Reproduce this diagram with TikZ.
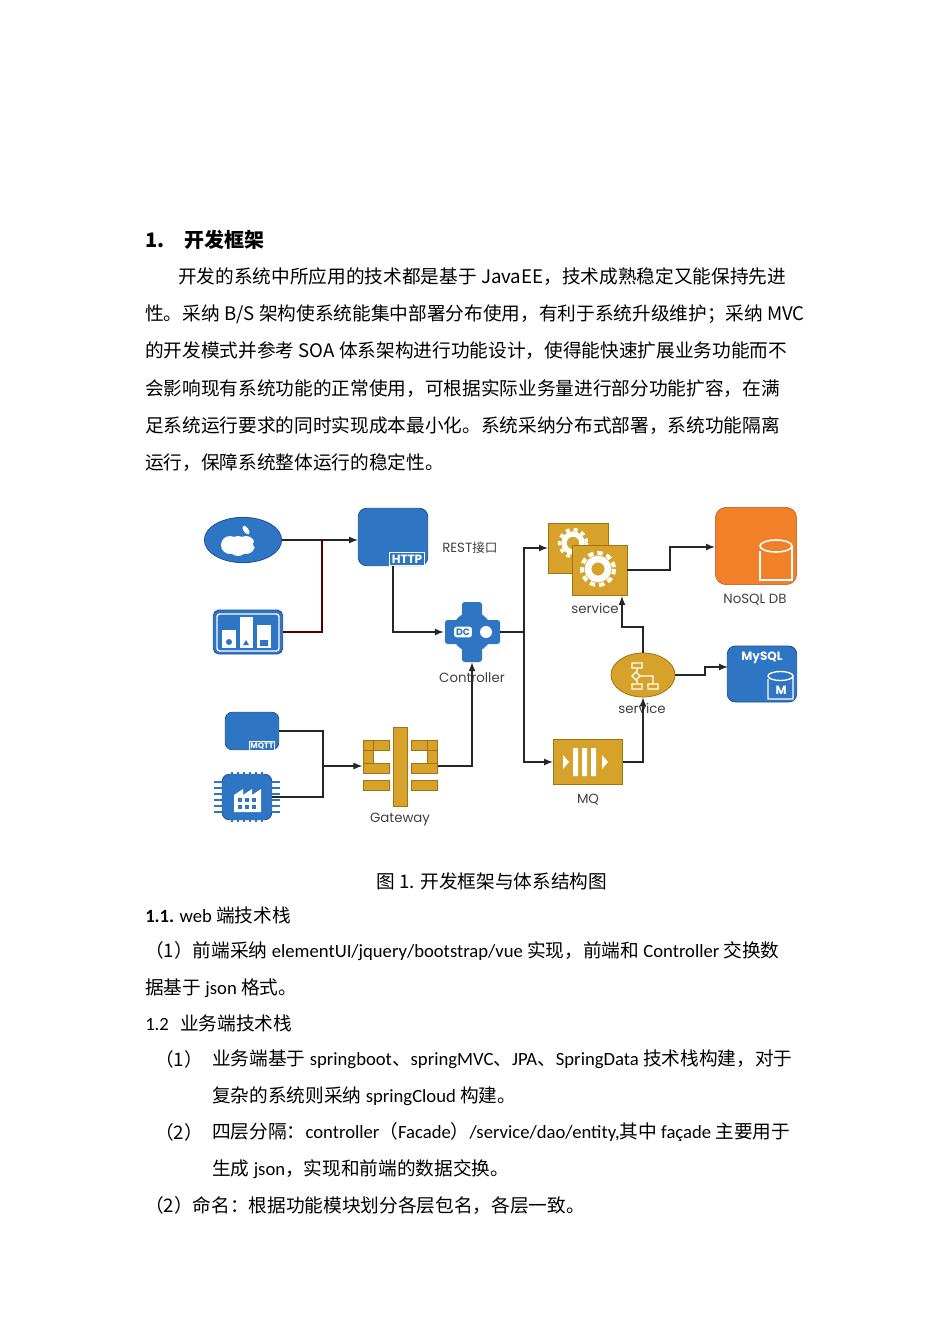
\documentclass[tikz,border=0pt]{standalone}
\usetikzlibrary{shapes.geometric}
\usepackage{fontspec}
\setmainfont{Noto Sans CJK SC}
\newfontfamily\lab{Poppins}
\newfontfamily\cjk{Noto Sans CJK SC}
\newfontfamily\lat{Carlito}
\definecolor{ibl}{RGB}{46,117,196}
\definecolor{ibd}{RGB}{30,80,150}
\definecolor{igd}{RGB}{214,162,42}
\definecolor{igk}{RGB}{160,115,20}
\definecolor{ior}{RGB}{242,128,40}
\begin{document}
\begin{tikzpicture}[x=0.75pt,y=-0.75pt,
  txt/.style={anchor=west,inner sep=0pt,font=\fontsize{14}{16}\selectfont},
  lbl/.style={inner sep=0pt,font=\lab\fontsize{10}{12}\selectfont,text=black!75},
  con/.style={draw=black!85,line width=1.3pt},
  arr/.style={con,-latex},
  blueic/.style={fill=ibl,draw=ibd,line width=0.6pt},
  goldic/.style={fill=igd,draw=igk,line width=0.6pt}]
\path[use as bounding box] (0,0) rectangle (950,1344);
\fill[white] (0,0) rectangle (950,1344);
% text
\node[txt,font=\bfseries\fontsize{15}{16}\selectfont] (t0) at (145,240) {1.\hspace{1em}开发框架};
\node[txt] (p1) at (178,277) {开发的系统中所应用的技术都是基于 JavaEE，技术成熟稳定又能保持先进};
\node[txt] (p2) at (145,314) {性。采纳 B/S 架构使系统能集中部署分布使用，有利于系统升级维护；采纳 MVC};
\node[txt] (p3) at (145,351) {的开发模式并参考 SOA 体系架构进行功能设计，使得能快速扩展业务功能而不};
\node[txt] (p4) at (145,389) {会影响现有系统功能的正常使用，可根据实际业务量进行部分功能扩容，在满};
\node[txt] (p5) at (145,426) {足系统运行要求的同时实现成本最小化。系统采纳分布式部署，系统功能隔离};
\node[txt] (p6) at (145,463) {运行，保障系统整体运行的稳定性。};
\node[txt,anchor=center] (cap) at (492,881) {图 1. 开发框架与体系结构图};
\node[txt] (h11) at (145,915) {{\lat\bfseries 1.1.} {\lat web} 端技术栈};
\node[txt] (q1) at (145,951) {（1）前端采纳 {\lat elementUI/jquery/bootstrap/vue} 实现，前端和 {\lat Controller} 交换数};
\node[txt] (q2) at (145,988) {据基于 {\lat json} 格式。};
\node[txt] (h12) at (145,1023) {{\lat 1.2}\hspace{0.6em}业务端技术栈};
\node[txt] (r1n) at (155,1059) {（1）};
\node[txt] (r1) at (212,1059) {业务端基于 {\lat springboot}、{\lat springMVC}、{\lat JPA}、{\lat SpringData} 技术栈构建，对于};
\node[txt] (r1b) at (212,1096) {复杂的系统则采纳 {\lat springCloud} 构建。};
\node[txt] (r2n) at (155,1132) {（2）};
\node[txt] (r2) at (212,1132) {四层分隔：{\lat controller}（{\lat Facade}）{\lat /service/dao/entity,}其中 {\lat façade} 主要用于};
\node[txt] (r2b) at (212,1169) {生成 {\lat json}，实现和前端的数据交换。};
\node[txt] (r3) at (145,1205) {（2）命名：根据功能模块划分各层包名，各层一致。};

% ===== icons =====
\node[ellipse,blueic,minimum width=58pt,minimum height=34pt,inner sep=0pt] (apple) at (243,540) {};
\fill[white] (230,545) circle (9) (246,545) circle (9) (238,546) ellipse [x radius=10,y radius=10];
\fill[ibl] (257,544) circle (4);
\fill[white,rotate around={35:(246,530)}] (246,530) ellipse [x radius=2.5,y radius=5];
\node[blueic,rounded corners=4pt,minimum width=52pt,minimum height=33pt,inner sep=0pt] (dash) at (248,632) {};
\draw[white,line width=1pt,rounded corners=2pt] (217,614) rectangle (279,651);
\fill[white] (222,630) rectangle (236,648);
\fill[white] (240,617) rectangle (253,648);
\fill[white] (257,625) rectangle (271,648);
\fill[ibl] (229,642) circle (3) (243,645)--(246,640)--(249,645)--cycle (260,640) rectangle (268,646);
\node[blueic,rounded corners=6pt,minimum width=52pt,minimum height=43pt,inner sep=0pt] (http) at (393,537) {};
\node[fill=ibl,draw=white,line width=1pt,inner sep=1.5pt,text=white,font=\lab\bfseries\fontsize{9}{10}\selectfont] (httpl) at (407,559) {HTTP};
\node[lbl,anchor=west] (rest) at (442,548) {REST{\cjk\fontsize{9.5}{12}\selectfont 接口}};
\node[minimum width=42pt,minimum height=45pt,inner sep=0pt] (ctrl) at (472,632) {};
\fill[ibl,rounded corners=2pt] (462,602) rectangle (482,662) (445,620) rectangle (500,644);
\fill[ibl] (472,632) circle (20);
\fill[white] (486,632) circle (6);
\node[fill=white,rounded corners=2pt,inner sep=1.5pt,text=ibl,font=\lab\bfseries\fontsize{7}{8}\selectfont] (dc) at (463,632) {DC};
\node[lbl] (ctrll) at (472,678) {Controller};
\node[blueic,rounded corners=5pt,minimum width=40pt,minimum height=28pt,inner sep=0pt] (mqtt) at (252,731) {};
\node[fill=ibl,draw=white,line width=0.8pt,inner sep=1pt,text=white,font=\lab\bfseries\fontsize{6}{7}\selectfont] (mqttl) at (262,746) {MQTT};
\node[blueic,rounded corners=5pt,minimum width=37pt,minimum height=34pt,inner sep=0pt] (chip) at (247,797) {};
\foreach \i in {0,...,5}{
 \draw[ibl,line width=1.5pt] (232+\i*6,772)--(232+\i*6,775) (232+\i*6,819)--(232+\i*6,822)
  (214,782+\i*6)--(222,782+\i*6) (272,782+\i*6)--(280,782+\i*6);}
\fill[white] (234,812)--(234,795)--(243,789)--(243,795)--(252,789)--(252,795)--(261,789)--(261,812)--cycle;
\foreach \a/\b in {238/798,245/798,252/798,238/805,245/805,252/805} \fill[ibl] (\a,\b) rectangle ++(4,4);
\node[minimum width=56pt,minimum height=60pt,inner sep=0pt] (gw) at (400,766) {};
\begin{scope}[goldic]
\filldraw (393,727) rectangle (407,806);
\filldraw (363,740) rectangle (389,750) (363,740) rectangle (373,763) (363,763) rectangle (389,773);
\filldraw (411,740) rectangle (437,750) (427,740) rectangle (437,763) (411,763) rectangle (437,773);
\filldraw (363,780) rectangle (389,790) (411,780) rectangle (437,790);
\end{scope}
\node[lbl] (gwl) at (400,820) {Gateway};
\node[minimum width=60pt,minimum height=54pt,inner sep=0pt] (gears) at (588,559) {};
\filldraw[goldic] (548,523) rectangle (608,573);
\draw[white,line width=4pt] (573,543) circle (9);
\draw[white,line width=2.5pt,dash pattern=on 3pt off 3pt] (573,543) circle (13.5);
\filldraw[goldic] (572,545) rectangle (627,595);
\draw[white,line width=5pt] (598,569) circle (10);
\draw[white,line width=3pt,dash pattern=on 4pt off 3pt] (598,569) circle (16);
\node[lbl] (gearsl) at (595,608) {service};
\node[fill=ior,draw=ior!70!black,rounded corners=8pt,minimum width=61pt,minimum height=58pt,inner sep=0pt] (nosql) at (756,546) {};
\draw[white,line width=1.2pt,fill=ior] (760,551)--(760,580)--(792,580)--(792,546) (776,546) ellipse [x radius=16,y radius=6];
\node[lbl] (nosqll) at (755,600) {NoSQL DB};
\node[ellipse,goldic,minimum width=48pt,minimum height=33pt,inner sep=0pt] (svc) at (643,675) {};
\draw[white,line width=1pt] (632,663) rectangle (642,668) (636,672)--(640,676)--(636,680)--(632,676)--cycle (632,684) rectangle (642,689) (648,684) rectangle (658,689) (637,668)--(637,672) (637,680)--(637,684) (640,676)--(653,676)--(653,684);
\node[lbl] (svcl) at (642,708) {service};
\node[blueic,rounded corners=6pt,minimum width=52pt,minimum height=42pt,inner sep=0pt] (mysql) at (762,674) {};
\node[text=white,font=\lab\bfseries\fontsize{9}{10}\selectfont,inner sep=0pt] (mysqll) at (762,658) {MySQL};
\draw[white,line width=1pt,fill=ibl] (768,679)--(768,699)--(793,699)--(793,676) (780.5,676) ellipse [x radius=12.5,y radius=4.5];
\node[text=white,font=\lab\bfseries\fontsize{9}{10}\selectfont,inner sep=0pt] (mm) at (781,690) {M};
\node[goldic,minimum width=52pt,minimum height=34pt,inner sep=0pt] (mq) at (588,762) {};
\fill[white] (563,755)--(569,762)--(563,769)--cycle (573,748) rectangle (578,776) (582,748) rectangle (587,776) (591,748) rectangle (596,776) (602,755)--(608,762)--(602,769)--cycle;
\node[lbl] (mql) at (588,800) {MQ};

% ===== connectors =====
\coordinate (j1) at (322,540);
\coordinate (j2) at (524,632);
\coordinate (j3) at (323,766);
\coordinate (hb) at (393,566);
\coordinate (gin) at (548,548);
\coordinate (gout) at (627,570);
\coordinate (nin) at (715,547);
\coordinate (min) at (728,667);
\coordinate (gbot) at (622,596);
\draw[arr] (apple.east) -- (apple.east -| http.west);
\draw[con,draw=red!30!black] (dash.east) -| (j1);
\draw[arr] (hb) |- (ctrl.west);
\draw[con] (ctrl.east) -- (j2);
\draw[arr] (j2) |- (gin);
\draw[arr] (j2) |- (mq.west);
\draw[arr] (gw.east) -| (ctrl.south);
\draw[con] (mqtt.east) -| (j3);
\draw[con] (chip.east) -| (j3);
\draw[arr] (j3) -- (gw.west);
\draw[arr] (gout) -- (670,570) |- (nin);
\draw[arr] (mq.east) -| (svc.south);
\draw[arr] (svc.north) |- (622,627) -- (gbot);
\draw[arr] (svc.east) -- (705,675) |- (min);
\end{tikzpicture}
\end{document}
